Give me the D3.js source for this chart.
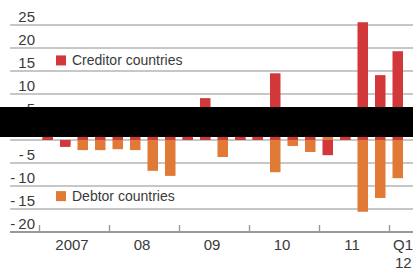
<!DOCTYPE html>
<meta charset="utf-8">
<style>
body { margin: 0; background: #fff; }
text { font-family: "Liberation Sans", Arial, sans-serif; fill: #3a3a3a; }
.grid line { stroke: #b5b5b5; stroke-width: 1.6px; }
.axis--x path { display: none; }
.axis--x line { stroke: #999; stroke-width: 1.4px; }
.baseline { stroke: #999; stroke-width: 2px; }
.bar-creditor { fill: #d2373a; }
.bar-debtor { fill: #e07a36; }
</style>
<svg width="413" height="273"></svg>
<script src="https://cdnjs.cloudflare.com/ajax/libs/d3/7.8.5/d3.min.js"></script>
<script>

// quarters 2007 Q1 .. 2012 Q1
var quarters = ["07Q1","07Q2","07Q3","07Q4","08Q1","08Q2","08Q3","08Q4",
                "09Q1","09Q2","09Q3","09Q4","10Q1","10Q2","10Q3","10Q4",
                "11Q1","11Q2","11Q3","11Q4","12Q1"];

var creditor = [2, -1.5, 2, 2, 1.5, 2, 3, 4,
                3, 9.1, 2, 3, 2, 14.5, 2, 3,
                -3.3, 4, 25.6, 14.1, 19.3];

var debtor = [1, -1, -2.2, -2.2, -2, -2.2, -6.7, -7.8,
              1, 1, -3.7, 1, 1, -7, -1.3, -2.6,
              1, 1, -15.6, -12.6, -8.3];

var yTicks = [-20, -15, -10, -5, 0, 5, 10, 15, 20, 25];
var yearTicks = [2007, 2008, 2009, 2010, 2011, 2012];
var yearLabels = ["2007", "08", "09", "10", "11"];

var svg = d3.select("svg");

var x = d3.scaleBand()
    .domain(quarters)
    .range([39, 406.5])
    .paddingInner(0.4)
    .paddingOuter(0.2);

// continuous year scale sharing the same pixel range
var xYear = d3.scaleLinear().domain([2007, 2012.25]).range([39, 406.5]);

var y = d3.scaleLinear().domain([-20, 25]).range([232, 25]);

// gridlines (the bottom one is the axis)
svg.append("g")
    .attr("class", "grid")
    .selectAll("line")
    .data(yTicks.filter(function(d) { return d > -20; }))
    .enter().append("line")
    .attr("x1", 10)
    .attr("x2", 413)
    .attr("y1", function(d) { return y(d); })
    .attr("y2", function(d) { return y(d); });

// y labels sit just above their line
svg.append("g")
    .selectAll("text")
    .data(yTicks)
    .enter().append("text")
    .attr("x", 35)
    .attr("y", function(d) { return y(d) - 3; })
    .attr("text-anchor", "end")
    .style("font-size", "15px")
    .text(function(d) { return d < 0 ? "-\u2009" + Math.abs(d) : d; });

// bars
svg.append("g").selectAll("rect")
    .data(debtor)
    .enter().append("rect")
    .attr("class", "bar-debtor")
    .attr("x", function(d, i) { return x(quarters[i]); })
    .attr("width", x.bandwidth())
    .attr("y", function(d) { return y(Math.max(0, d)); })
    .attr("height", function(d) { return Math.abs(y(d) - y(0)); });

svg.append("g").selectAll("rect")
    .data(creditor)
    .enter().append("rect")
    .attr("class", "bar-creditor")
    .attr("x", function(d, i) { return x(quarters[i]); })
    .attr("width", x.bandwidth())
    .attr("y", function(d) { return y(Math.max(0, d)); })
    .attr("height", function(d) { return Math.abs(y(d) - y(0)); });

// bottom axis at -20 with year ticks pointing up
svg.append("line")
    .attr("class", "baseline")
    .attr("x1", 10).attr("x2", 413)
    .attr("y1", y(-20)).attr("y2", y(-20));

svg.append("g")
    .attr("class", "axis axis--x")
    .attr("transform", "translate(0," + y(-20) + ")")
    .call(d3.axisTop(xYear).tickValues(yearTicks).tickSize(7).tickFormat(""));

svg.append("g")
    .selectAll("text")
    .data(yearLabels)
    .enter().append("text")
    .attr("x", function(d, i) { return xYear(yearTicks[i] + 0.5) - 2; })
    .attr("y", 250)
    .attr("text-anchor", "middle")
    .style("font-size", "15px")
    .text(function(d) { return d; });

var q1 = svg.append("text")
    .attr("x", xYear(2012) + 4)
    .attr("y", 250)
    .style("font-size", "15px");
q1.append("tspan").text("Q1");
q1.append("tspan").attr("x", xYear(2012) + 6).attr("dy", 18).text("12");

// legend, placed at chart values
var legend = [
    {label: "Creditor countries", cls: "bar-creditor", value: 17.3},
    {label: "Debtor countries", cls: "bar-debtor", value: -12.2}
];
var lg = svg.append("g").selectAll("g")
    .data(legend)
    .enter().append("g")
    .attr("transform", function(d) { return "translate(56," + y(d.value) + ")"; });
lg.append("rect")
    .attr("class", function(d) { return d.cls; })
    .attr("x", 0).attr("y", -5)
    .attr("width", 10).attr("height", 10);
lg.append("text")
    .attr("x", 16)
    .attr("y", 5)
    .style("font-size", "14px")
    .text(function(d) { return d.label; });

// dark overlay band that covers the middle of the reference image
svg.append("rect")
    .attr("x", 0).attr("y", 107)
    .attr("width", 413).attr("height", 30)
    .attr("fill", "#000");

</script>
